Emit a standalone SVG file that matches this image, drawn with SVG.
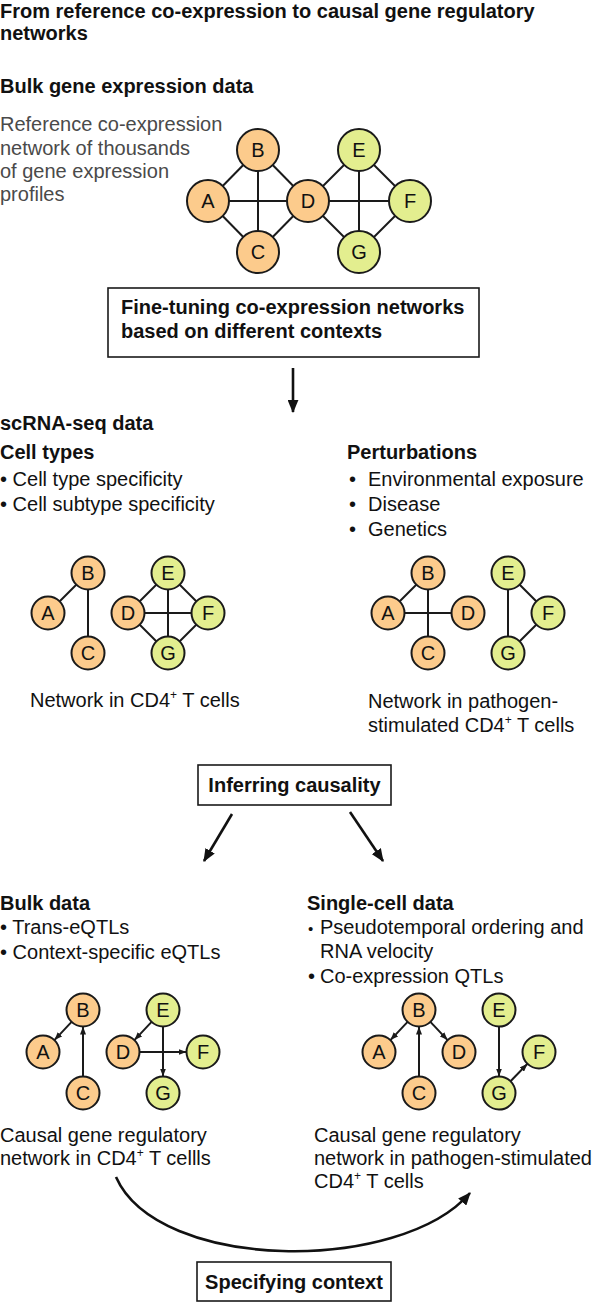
<svg xmlns="http://www.w3.org/2000/svg" width="594" height="1303" viewBox="0 0 594 1303">
<style>
text{font-family:"Liberation Sans",Arial,Helvetica,sans-serif;font-size:20px;fill:#111}
.b{font-weight:bold}
.g{fill:#4a4a4a}
.n text{text-anchor:middle}
.o{fill:#FCCB8C;stroke:#1a1a1a;stroke-width:2}
.y{fill:#E3EE8F;stroke:#1a1a1a;stroke-width:2}
.e{stroke:#1a1a1a;stroke-width:2;fill:none}
.box{fill:#fff;stroke:#1a1a1a;stroke-width:1.6}
.big{stroke:#111;stroke-width:2.6;fill:none}
.sup{font-size:12px}
.sb{font-size:15px}
</style>
<defs>
<marker id="ah" viewBox="0 0 12 10" refX="11" refY="5" markerWidth="13" markerHeight="11" orient="auto" markerUnits="userSpaceOnUse"><path d="M0,0 L12,5 L0,10 z" fill="#111"/></marker>
<marker id="sh" viewBox="0 0 8 6" refX="8" refY="3" markerWidth="8" markerHeight="6" orient="auto" markerUnits="userSpaceOnUse"><path d="M0,0 L8,3 L0,6 z" fill="#1a1a1a"/></marker>
</defs>

<g id="title">
<text class="b" x="0" y="18">From reference co-expression to causal gene regulatory</text>
<text class="b" x="0" y="40">networks</text>
</g>
<g id="bulk-heading"><text class="b" x="0" y="93">Bulk gene expression data</text></g>
<g id="bulk-desc">
<text class="g" x="0" y="131">Reference co-expression</text>
<text class="g" x="0" y="155">network of thousands</text>
<text class="g" x="0" y="178">of gene expression</text>
<text class="g" x="0" y="201">profiles</text>
</g>

<g id="connectors">
<line class="e" x1="208" y1="201" x2="258" y2="150"/>
<line class="e" x1="208" y1="201" x2="258" y2="252"/>
<line class="e" x1="208" y1="201" x2="308" y2="201"/>
<line class="e" x1="258" y1="150" x2="258" y2="252"/>
<line class="e" x1="258" y1="150" x2="308" y2="201"/>
<line class="e" x1="258" y1="252" x2="308" y2="201"/>
<line class="e" x1="308" y1="201" x2="359" y2="150"/>
<line class="e" x1="308" y1="201" x2="410" y2="201"/>
<line class="e" x1="308" y1="201" x2="359" y2="252"/>
<line class="e" x1="359" y1="150" x2="410" y2="201"/>
<line class="e" x1="359" y1="150" x2="359" y2="252"/>
<line class="e" x1="359" y1="252" x2="410" y2="201"/>
<line class="big" x1="293" y1="368" x2="293" y2="412" marker-end="url(#ah)"/>
<line class="e" x1="48" y1="613" x2="88" y2="573"/>
<line class="e" x1="88" y1="573" x2="88" y2="653"/>
<line class="e" x1="128" y1="613" x2="168" y2="573"/>
<line class="e" x1="128" y1="613" x2="208" y2="613"/>
<line class="e" x1="128" y1="613" x2="168" y2="653"/>
<line class="e" x1="168" y1="573" x2="208" y2="613"/>
<line class="e" x1="168" y1="573" x2="168" y2="653"/>
<line class="e" x1="168" y1="653" x2="208" y2="613"/>
<line class="e" x1="388" y1="613" x2="428" y2="573"/>
<line class="e" x1="388" y1="613" x2="468" y2="613"/>
<line class="e" x1="428" y1="573" x2="428" y2="653"/>
<line class="e" x1="508" y1="573" x2="548" y2="613"/>
<line class="e" x1="508" y1="573" x2="508" y2="653"/>
<line class="e" x1="508" y1="653" x2="548" y2="613"/>
<line class="big" x1="232" y1="814" x2="204" y2="861" marker-end="url(#ah)"/>
<line class="big" x1="350" y1="812" x2="383" y2="861" marker-end="url(#ah)"/>
<line class="e" x1="71.6" y1="1021.9" x2="54.4" y2="1040.1" marker-end="url(#sh)"/>
<line class="e" x1="83" y1="1076.5" x2="83" y2="1026.5" marker-end="url(#sh)"/>
<line class="e" x1="151.6" y1="1021.9" x2="134.4" y2="1040.1" marker-end="url(#sh)"/>
<line class="e" x1="139.5" y1="1052" x2="186.5" y2="1052" marker-end="url(#sh)"/>
<line class="e" x1="163" y1="1026.5" x2="163" y2="1076.5" marker-end="url(#sh)"/>
<line class="e" x1="407.6" y1="1021.9" x2="390.4" y2="1040.1" marker-end="url(#sh)"/>
<line class="e" x1="430.4" y1="1021.9" x2="447.6" y2="1040.1" marker-end="url(#sh)"/>
<line class="e" x1="419" y1="1076.5" x2="419" y2="1026.5" marker-end="url(#sh)"/>
<line class="e" x1="499" y1="1026.5" x2="499" y2="1076.5" marker-end="url(#sh)"/>
<line class="e" x1="510.5" y1="1081.2" x2="527.5" y2="1063.8" marker-end="url(#sh)"/>
<path class="big" d="M116,1177 C158,1272 400,1274 470,1193" marker-end="url(#ah)"/>
</g>

<g class="n">
<g id="top-A"><circle class="o" cx="208" cy="201" r="21"/><text x="208" y="208">A</text></g>
<g id="top-B"><circle class="o" cx="258" cy="150" r="21"/><text x="258" y="157">B</text></g>
<g id="top-C"><circle class="o" cx="258" cy="252" r="21"/><text x="258" y="259">C</text></g>
<g id="top-D"><circle class="o" cx="308" cy="201" r="21"/><text x="308" y="208">D</text></g>
<g id="top-E"><circle class="y" cx="359" cy="150" r="21"/><text x="359" y="157">E</text></g>
<g id="top-F"><circle class="y" cx="410" cy="201" r="21"/><text x="410" y="208">F</text></g>
<g id="top-G"><circle class="y" cx="359" cy="252" r="21"/><text x="359" y="259">G</text></g>
</g>

<g id="finetune-box">
<rect class="box" x="108" y="288" width="371" height="69"/>
<text class="b" x="121" y="314">Fine-tuning co-expression networks</text>
<text class="b" x="121" y="338">based on different contexts</text>
</g>

<g id="scrna-heading"><text class="b" x="0" y="430">scRNA-seq data</text></g>
<g id="celltypes">
<text class="b" x="0" y="459">Cell types</text>
<text x="0" y="486">• Cell type specificity</text>
<text x="0" y="511">• Cell subtype specificity</text>
</g>
<g id="perturbations">
<text class="b" x="347" y="459">Perturbations</text>
<text x="349" y="486">•<tspan x="368">Environmental exposure</tspan></text>
<text x="349" y="511">•<tspan x="368">Disease</tspan></text>
<text x="349" y="536">•<tspan x="368">Genetics</tspan></text>
</g>

<g class="n">
<g id="ml-A"><circle class="o" cx="48" cy="613" r="16.5"/><text x="48" y="620">A</text></g>
<g id="ml-B"><circle class="o" cx="88" cy="573" r="16.5"/><text x="88" y="580">B</text></g>
<g id="ml-C"><circle class="o" cx="88" cy="653" r="16.5"/><text x="88" y="660">C</text></g>
<g id="ml-D"><circle class="o" cx="128" cy="613" r="16.5"/><text x="128" y="620">D</text></g>
<g id="ml-E"><circle class="y" cx="168" cy="573" r="16.5"/><text x="168" y="580">E</text></g>
<g id="ml-F"><circle class="y" cx="208" cy="613" r="16.5"/><text x="208" y="620">F</text></g>
<g id="ml-G"><circle class="y" cx="168" cy="653" r="16.5"/><text x="168" y="660">G</text></g>
</g>
<g class="n">
<g id="mr-A"><circle class="o" cx="388" cy="613" r="16.5"/><text x="388" y="620">A</text></g>
<g id="mr-B"><circle class="o" cx="428" cy="573" r="16.5"/><text x="428" y="580">B</text></g>
<g id="mr-C"><circle class="o" cx="428" cy="653" r="16.5"/><text x="428" y="660">C</text></g>
<g id="mr-D"><circle class="o" cx="468" cy="613" r="16.5"/><text x="468" y="620">D</text></g>
<g id="mr-E"><circle class="y" cx="508" cy="573" r="16.5"/><text x="508" y="580">E</text></g>
<g id="mr-F"><circle class="y" cx="548" cy="613" r="16.5"/><text x="548" y="620">F</text></g>
<g id="mr-G"><circle class="y" cx="508" cy="653" r="16.5"/><text x="508" y="660">G</text></g>
</g>

<g id="ml-label"><text x="30" y="707">Network in CD4<tspan class="sup" dy="-8">+</tspan><tspan dy="8"> T cells</tspan></text></g>
<g id="mr-label">
<text x="368" y="708">Network in pathogen-</text>
<text x="368" y="732">stimulated CD4<tspan class="sup" dy="-8">+</tspan><tspan dy="8"> T cells</tspan></text>
</g>

<g id="inferring-box">
<rect class="box" x="198" y="765" width="193" height="40"/>
<text class="b" x="294.5" y="792" text-anchor="middle">Inferring causality</text>
</g>

<g id="bulkdata">
<text class="b" x="0" y="910">Bulk data</text>
<text x="0" y="934">• Trans-eQTLs</text>
<text x="0" y="959">• Context-specific eQTLs</text>
</g>
<g id="singlecell">
<text class="b" x="307" y="910">Single-cell data</text>
<text x="308" y="934"><tspan class="sb">•</tspan><tspan x="320">Pseudotemporal ordering and</tspan></text>
<text x="320" y="958">RNA velocity</text>
<text x="308" y="983">•<tspan x="320">Co-expression QTLs</tspan></text>
</g>

<g class="n">
<g id="ll-A"><circle class="o" cx="43" cy="1052" r="16.5"/><text x="43" y="1059">A</text></g>
<g id="ll-B"><circle class="o" cx="83" cy="1010" r="16.5"/><text x="83" y="1017">B</text></g>
<g id="ll-C"><circle class="o" cx="83" cy="1093" r="16.5"/><text x="83" y="1100">C</text></g>
<g id="ll-D"><circle class="o" cx="123" cy="1052" r="16.5"/><text x="123" y="1059">D</text></g>
<g id="ll-E"><circle class="y" cx="163" cy="1010" r="16.5"/><text x="163" y="1017">E</text></g>
<g id="ll-F"><circle class="y" cx="203" cy="1052" r="16.5"/><text x="203" y="1059">F</text></g>
<g id="ll-G"><circle class="y" cx="163" cy="1093" r="16.5"/><text x="163" y="1100">G</text></g>
</g>
<g class="n">
<g id="lr-A"><circle class="o" cx="379" cy="1052" r="16.5"/><text x="379" y="1059">A</text></g>
<g id="lr-B"><circle class="o" cx="419" cy="1010" r="16.5"/><text x="419" y="1017">B</text></g>
<g id="lr-C"><circle class="o" cx="419" cy="1093" r="16.5"/><text x="419" y="1100">C</text></g>
<g id="lr-D"><circle class="o" cx="459" cy="1052" r="16.5"/><text x="459" y="1059">D</text></g>
<g id="lr-E"><circle class="y" cx="499" cy="1010" r="16.5"/><text x="499" y="1017">E</text></g>
<g id="lr-F"><circle class="y" cx="539" cy="1052" r="16.5"/><text x="539" y="1059">F</text></g>
<g id="lr-G"><circle class="y" cx="499" cy="1093" r="16.5"/><text x="499" y="1100">G</text></g>
</g>

<g id="ll-label">
<text x="0" y="1142">Causal gene regulatory</text>
<text x="0" y="1165">network in CD4<tspan class="sup" dy="-8">+</tspan><tspan dy="8"> T cellls</tspan></text>
</g>
<g id="lr-label">
<text x="314" y="1142">Causal gene regulatory</text>
<text x="314" y="1165">network in pathogen-stimulated</text>
<text x="314" y="1188">CD4<tspan class="sup" dy="-8">+</tspan><tspan dy="8"> T cells</tspan></text>
</g>

<g id="specifying-box">
<rect class="box" x="197" y="1262" width="194" height="39"/>
<text class="b" x="294" y="1289" text-anchor="middle">Specifying context</text>
</g>
</svg>
